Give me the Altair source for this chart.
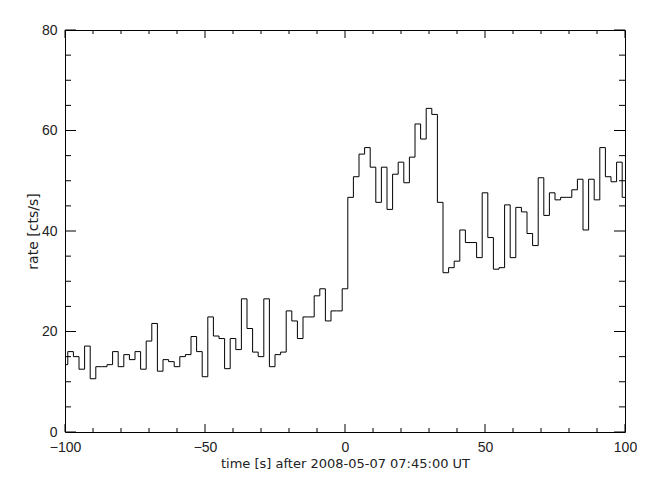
import altair as alt
import pandas as pd

times = [-100, -98, -96, -94, -92, -90, -88, -86, -84, -82,
         -80, -78, -76, -74, -72, -70, -68, -66, -64, -62,
         -60, -58, -56, -54, -52, -50, -48, -46, -44, -42,
         -40, -38, -36, -34, -32, -30, -28, -26, -24, -22,
         -20, -18, -16, -14, -12, -10, -8, -6, -4, -2,
         0, 2, 4, 6, 8, 10, 12, 14, 16, 18,
         20, 22, 24, 26, 28, 30, 32, 34, 36, 38,
         40, 42, 44, 46, 48, 50, 52, 54, 56, 58,
         60, 62, 64, 66, 68, 70, 72, 74, 76, 78,
         80, 82, 84, 86, 88, 90, 92, 94, 96, 98, 100]

rates = [13.4, 16.0, 15.0, 12.5, 17.1, 10.6, 13.0, 13.0, 13.4, 16.0,
         13.0, 15.4, 14.4, 16.0, 12.5, 18.1, 21.6, 12.1, 14.4, 14.0,
         13.0, 15.0, 15.4, 19.0, 16.0, 11.0, 22.9, 19.1, 18.6, 12.6,
         18.6, 16.4, 26.5, 20.6, 15.9, 15.0, 26.5, 13.0, 15.4, 15.9,
         24.1, 22.1, 18.6, 22.9, 22.9, 27.1, 28.5, 22.1, 24.1, 24.1,
         28.5, 46.7, 50.8, 55.3, 56.6, 52.7, 45.7, 52.7, 44.3, 51.3,
         53.7, 49.6, 54.7, 61.3, 58.3, 64.4, 63.2, 45.7, 31.7, 32.7,
         34.0, 40.2, 37.7, 37.7, 34.7, 47.6, 38.7, 32.4, 32.7, 45.2,
         34.7, 44.7, 43.8, 39.5, 37.1, 50.6, 43.1, 47.6, 46.2, 46.7,
         46.7, 48.2, 50.3, 40.2, 50.3, 46.2, 56.6, 50.8, 49.8, 53.7, 46.7]

x_labels = [-100, -50, 0, 50, 100]
y_labels = [0, 20, 40, 60, 80]
x_minor = [-90, -80, -70, -60, -40, -30, -20, -10,
           10, 20, 30, 40, 60, 70, 80, 90]
y_minor = [5, 10, 15, 25, 30, 35, 45, 50, 55, 65, 70, 75]

W, H = 560, 402
FONT = "Liberation Sans"
TFONT = "DejaVu Sans"
TXT = "#222222"

df = pd.DataFrame({"t": times, "rate": rates})
xmaj = pd.DataFrame({"t": x_labels})
xmin = pd.DataFrame({"t": x_minor})
ymaj = pd.DataFrame({"rate": y_labels})
ymin = pd.DataFrame({"rate": y_minor})

xs = alt.Scale(domain=[-100, 100], nice=False, zero=False)
ys = alt.Scale(domain=[0, 80], nice=False, zero=False)

x_axis = alt.Axis(
    values=x_labels, ticks=False, domain=False, grid=False,
    labelFlush=False, labelFont=FONT, labelFontSize=14, labelColor=TXT,
    labelPadding=8, title="time [s] after 2008-05-07 07:45:00 UT",
    titleFont=TFONT, titleFontSize=13, titleFontWeight="normal",
    titleColor=TXT, titlePadding=3)
y_axis = alt.Axis(
    values=y_labels, ticks=False, domain=False, grid=False,
    labelFont=FONT, labelFontSize=14, labelColor=TXT, labelPadding=8,
    title="rate [cts/s]", titleFont=TFONT, titleFontSize=14,
    titleFontWeight="normal", titleColor=TXT, titlePadding=1)

X = alt.X("t:Q", scale=xs, axis=x_axis)
Y = alt.Y("rate:Q", scale=ys, axis=y_axis)

line = alt.Chart(df).mark_line(interpolate="step", color="black", strokeWidth=1).encode(
    x=X, y=Y)


def yticks(data, length):
    left = alt.Chart(data).mark_rule(color="black", strokeWidth=1).encode(
        y=Y, x=alt.value(0), x2=alt.value(length))
    right = alt.Chart(data).mark_rule(color="black", strokeWidth=1).encode(
        y=Y, x=alt.value(W - length), x2=alt.value(W))
    return [left, right]


def xticks(data, length):
    bottom = alt.Chart(data).mark_rule(color="black", strokeWidth=1).encode(
        x=X, y=alt.value(H), y2=alt.value(H - length))
    top = alt.Chart(data).mark_rule(color="black", strokeWidth=1).encode(
        x=X, y=alt.value(0), y2=alt.value(length))
    return [bottom, top]


layers = [line] + yticks(ymaj, 11) + yticks(ymin, 6) + xticks(xmaj, 8) + xticks(xmin, 4)

chart = alt.layer(*layers).properties(
    width=W, height=H,
    autosize=alt.AutoSizeParams(type="none"),
    padding={"left": 57, "top": 22, "right": 12, "bottom": 50},
    background="white",
).configure_view(stroke="black", strokeWidth=1)

chart.save("out.html", embed_options={"renderer": "svg", "actions": False})
